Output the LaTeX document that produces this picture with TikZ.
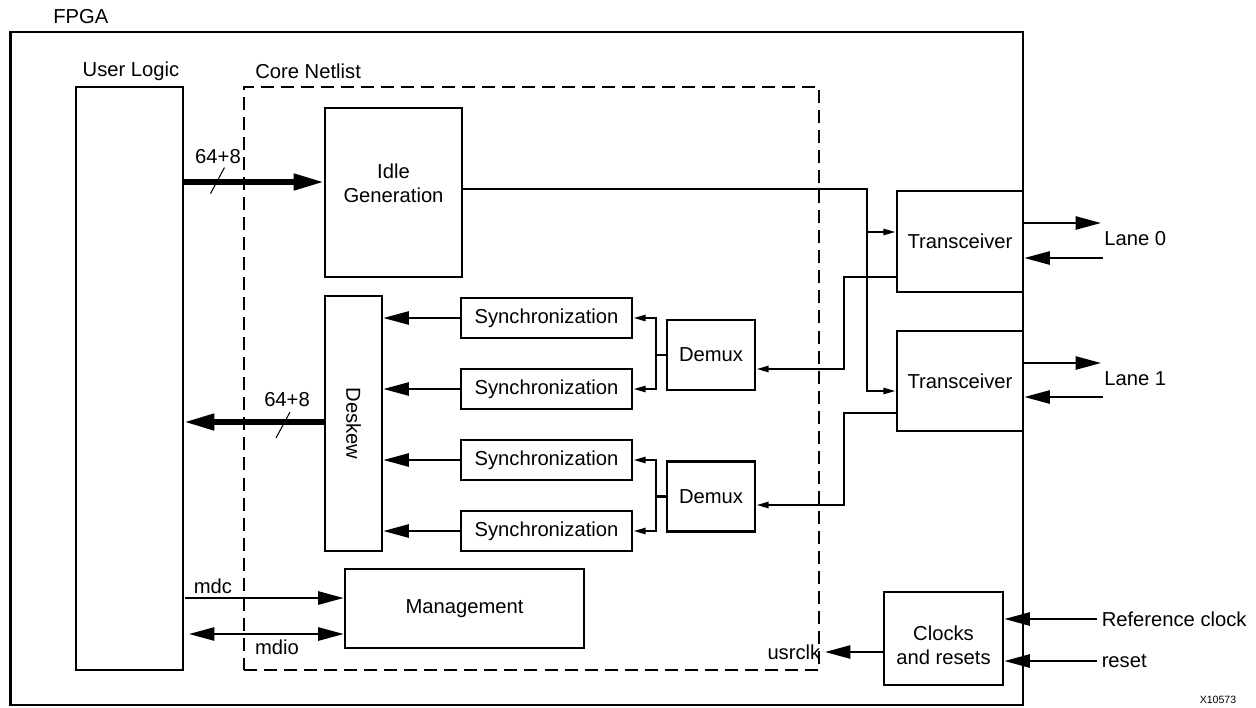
\documentclass[tikz,border=0pt]{standalone}
\usepackage{fontspec}
\setmainfont{Liberation Sans}
\usetikzlibrary{calc,arrows.meta,positioning}
\newcommand{\BusMark}[1]% #1 = centre of the slash across a bus
{\draw[line width=0.6pt] ($(#1)+(-7,13)$) -- ($(#1)+(7,-13)$);
}

\begin{document}
\begin{tikzpicture}[x=0.02cm,y=-0.02cm,
	every node/.style={font=\fontsize{11.5}{13.5}\selectfont},
	blk/.style={draw,line width=1.6pt,inner sep=0pt,align=center},
	lbl/.style={inner sep=0pt},
	wire/.style={line width=1.25pt},
	bus/.style={line width=2.9pt,-{Triangle[length=17pt,width=9pt]}},
	bigtip/.style={-{Triangle[length=14.5pt,width=7.5pt]}},
	bigtips/.style={{Triangle[length=14.5pt,width=7.5pt]}-{Triangle[length=14.5pt,width=7.5pt]}},
	smalltip/.style={-{Triangle[length=7pt,width=3.5pt]}}]

	\fill[white,use as bounding box] (0,0) rectangle (1256,707);

	%% Frames
	\node[blk,line width=1.6pt,minimum width=20.26cm,minimum height=13.46cm] (fpga) at (516.5,368.5) {};
	\node[blk,minimum width=2.14cm,minimum height=11.66cm] (userlogic) at (129.5,378.5) {};
	\node[draw,line width=0.75pt,dash pattern=on 7.4pt off 4pt,minimum width=11.5cm,minimum height=11.66cm] (core) at (531.5,378.5) {};

	\node[lbl,anchor=west] (fpgatxt) at (53,17) {FPGA};
	\node[lbl] (ultxt) at (131,71) {User Logic};
	\node[lbl,anchor=west] (coretxt) at (255,71) {Core Netlist};

	%% Blocks
	\node[blk,minimum width=2.74cm,minimum height=3.38cm] (idle) at (393.5,192.5) {};
	\node[align=center] (idletxt) at (393.5,183) {Idle\\Generation};
	\node[blk,minimum width=1.14cm,minimum height=5.1cm] (deskew) at (353.5,423.5) {};
	\node[rotate=-90] (desktxt) at (deskew.center) {Deskew};
	\foreach \i/\yy in {1/318,2/389,3/460,4/531}
		\node[blk,minimum width=3.42cm,minimum height=0.8cm] (sync\i) at (546.5,\yy) {Synchronization};
	\node[blk,minimum width=1.76cm,minimum height=1.4cm] (demux1) at (711,355) {Demux};
	\node[blk,minimum width=1.76cm,minimum height=1.4cm] (demux2) at (711,496.5) {Demux};
	\node[blk,minimum width=2.52cm,minimum height=2.02cm] (trx0) at (960,241.5) {Transceiver};
	\node[blk,minimum width=2.52cm,minimum height=2cm] (trx1) at (960,381) {Transceiver};
	\node[blk,minimum width=4.78cm,minimum height=1.58cm] (mgmt) at (464.5,608.5) {Management};
	\node[blk,minimum width=2.38cm,minimum height=1.86cm] (clkrst) at (943.5,638.5) {};
	\node[align=center] (clktxt) at (943.5,645) {Clocks\\and resets};

	%% Transmit side
	\coordinate (txin) at (250,182);
	\draw[bus] (userlogic.east |- txin) -- (idle.west |- txin);
	\coordinate (mk1) at (217.5,180.5);
	\BusMark{mk1}
	\node (w1) at (218,157) {64+8};

	\coordinate (split) at (867,189);
	\coordinate (in0) at (867,232);
	\coordinate (in1) at (867,391);
	\draw[wire,smalltip] (idle.east |- split) -- (split) -- (in1) -- (in1 -| trx1.west);
	\draw[wire,smalltip] (in0) -- (in0 -| trx0.west);

	%% Receive side
	\coordinate (rx0) at (844,277);
	\coordinate (rx1) at (844,413);
	\coordinate (dm0) at (844,369);
	\coordinate (dm1) at (844,505);
	\draw[wire,smalltip] (trx0.west |- rx0) -- (rx0) -- (dm0) -- (dm0 -| demux1.east);
	\draw[wire,smalltip] (trx1.west |- rx1) -- (rx1) -- (dm1) -- (dm1 -| demux2.east);

	\coordinate (fan0) at (656,355);
	\coordinate (fan1) at (656,496.5);
	\draw[wire] (demux1.west) -- (fan0);
	\draw[wire,smalltip] (fan0) |- (sync1.east);
	\draw[wire,smalltip] (fan0) |- (sync2.east);
	\draw[wire] (demux2.west) -- (fan1);
	\draw[wire,smalltip] (fan1) |- (sync3.east);
	\draw[wire,smalltip] (fan1) |- (sync4.east);

	\foreach \i in {1,...,4}
		\draw[wire,bigtip] (sync\i.west) -- (sync\i.west -| deskew.east);

	\coordinate (rxout) at (300,422);
	\draw[bus] (deskew.west |- rxout) -- (userlogic.east |- rxout);
	\coordinate (mk2) at (283,425);
	\BusMark{mk2}
	\node (w2) at (287,400) {64+8};

	%% Management interface
	\coordinate (mdc) at (185,598);
	\coordinate (mdio) at (189,634);
	\draw[wire,bigtip] (mdc) -- (mdc -| mgmt.west);
	\draw[wire,bigtips] (mdio) -- (mdio -| mgmt.west);
	\node (mdctxt) at (213,586) {mdc};
	\node (mdiotxt) at (277,647) {mdio};

	%% Clocking
	\node[inner sep=2.5pt,anchor=east] (usrclk) at (825,652) {usrclk};
	\draw[wire,bigtip] (clkrst.west |- usrclk) -- (usrclk.east);
	\node[inner sep=2.5pt,anchor=west] (refclk) at (1097,619) {Reference clock};
	\node[inner sep=2.5pt,anchor=west] (rst) at (1097,661) {reset};
	\draw[wire,bigtip] (refclk.west) -- (refclk.west -| clkrst.east);
	\draw[wire,bigtip] (rst.west) -- (rst.west -| clkrst.east);

	%% Serial lanes
	\coordinate (l0tx) at (1101,223);
	\coordinate (l0rx) at (1103,258);
	\coordinate (l1tx) at (1101,363);
	\coordinate (l1rx) at (1103,397);
	\draw[wire,bigtip] (trx0.east |- l0tx) -- (l0tx);
	\draw[wire,bigtip] (l0rx) -- (l0rx -| trx0.east);
	\draw[wire,bigtip] (trx1.east |- l1tx) -- (l1tx);
	\draw[wire,bigtip] (l1rx) -- (l1rx -| trx1.east);
	\node[lbl,anchor=west] (lane0) at (1104,239) {Lane 0};
	\node[lbl,anchor=west] (lane1) at (1104,379) {Lane 1};

	\node[lbl,font=\fontsize{6}{7}\selectfont] (fig) at (1218,700) {X10573};
\end{tikzpicture}
\end{document}
